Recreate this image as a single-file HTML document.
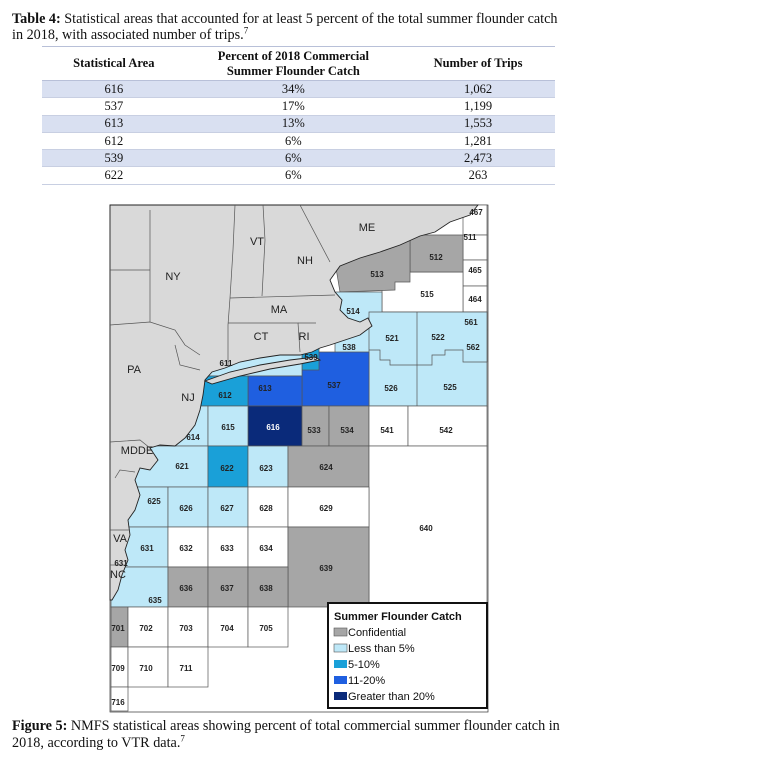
<!DOCTYPE html>
<html><head><style>
body{margin:0;width:777px;height:768px;background:#fff;position:relative;overflow:hidden;font-family:"Liberation Serif",serif;color:#111}
.t{position:absolute;left:12px;font-size:14.2px;line-height:17px;white-space:nowrap}
table{position:absolute;left:42px;top:46px;width:513px;border-collapse:collapse;font-size:12.5px}
td,th{text-align:center;padding:0;height:16.3px;line-height:15px}
th{font-weight:bold;height:33px;border-top:1px solid #b8c0d8;border-bottom:1px solid #b8c0d8}
tr.s td{background:#d9e0f1}
td{border-bottom:1px solid #c8cfe2}
svg{position:absolute;left:0;top:0}
</style></head><body>
<div class="t" style="top:11px;line-height:16px"><b>Table 4:</b> Statistical areas that accounted for at least 5 percent of the total summer flounder catch<br>in 2018, with associated number of trips.<sup style="font-size:9px;line-height:0">7</sup></div>
<table>
<tr><th style="width:28%">Statistical Area</th><th style="width:42%">Percent of 2018 Commercial<br>Summer Flounder Catch</th><th>Number of Trips</th></tr>
<tr class="s"><td>616</td><td>34%</td><td>1,062</td></tr>
<tr><td>537</td><td>17%</td><td>1,199</td></tr>
<tr class="s"><td>613</td><td>13%</td><td>1,553</td></tr>
<tr><td>612</td><td>6%</td><td>1,281</td></tr>
<tr class="s"><td>539</td><td>6%</td><td>2,473</td></tr>
<tr><td>622</td><td>6%</td><td>263</td></tr>
</table>
<svg width="777" height="768" viewBox="0 0 777 768">
<g stroke="#555" stroke-width="0.7">
<rect x="110" y="205" width="378" height="507" fill="#fff" stroke="#333"/>
<rect x="463" y="205" width="24" height="30" fill="#fff"/>
<rect x="463" y="235" width="24" height="25" fill="#fff"/>
<rect x="463" y="260" width="24" height="26" fill="#fff"/>
<rect x="463" y="286" width="24" height="26" fill="#fff"/>
<rect x="463" y="312" width="24" height="18" fill="#a6a6a6"/>
<rect x="463" y="330" width="24" height="32" fill="#bee8f8"/>
<rect x="382" y="272" width="81" height="40" fill="#fff"/>
<polygon points="410,235 463,235 463,272 410,272" fill="#a6a6a6"/>
<polygon points="335,262 360,250 410,240 410,282 395,282 395,290 340,292" fill="#a6a6a6"/>
<rect x="335" y="292" width="47" height="70" fill="#bee8f8"/>
<polygon points="369,312 487,312 487,406 369,406" fill="#bee8f8"/>
<polyline points="417,312 417,406" fill="none"/>
<polyline points="369,350 380,350 380,360 390,360 390,365 417,365 432,365 432,355 445,355 445,350 463,350 463,362 487,362" fill="none"/>
<polygon points="302,352 369,352 369,406 302,406" fill="#1f5fe0"/>
<rect x="302" y="345" width="17" height="25" fill="#1aa0d8"/>
<rect x="200" y="352" width="102" height="24" fill="#bee8f8"/>
<rect x="248" y="376" width="54" height="30" fill="#1f5fe0"/>
<rect x="200" y="376" width="48" height="30" fill="#1aa0d8"/>
<rect x="248" y="406" width="54" height="40" fill="#0a2a7a"/>
<rect x="302" y="406" width="27" height="40" fill="#a6a6a6"/>
<rect x="329" y="406" width="40" height="40" fill="#a6a6a6"/>
<rect x="369" y="406" width="39" height="40" fill="#fff"/>
<rect x="408" y="406" width="79" height="40" fill="#fff"/>
<rect x="150" y="406" width="58" height="40" fill="#bee8f8"/>
<rect x="208" y="406" width="40" height="40" fill="#bee8f8"/>
<rect x="130" y="446" width="78" height="41" fill="#bee8f8"/>
<rect x="208" y="446" width="40" height="41" fill="#1aa0d8"/>
<rect x="248" y="446" width="40" height="41" fill="#bee8f8"/>
<rect x="288" y="446" width="81" height="41" fill="#a6a6a6"/>
<rect x="369" y="446" width="118" height="161" fill="#fff"/>
<rect x="111" y="487" width="57" height="40" fill="#bee8f8"/>
<rect x="168" y="487" width="40" height="40" fill="#bee8f8"/>
<rect x="208" y="487" width="40" height="40" fill="#bee8f8"/>
<rect x="248" y="487" width="40" height="40" fill="#fff"/>
<rect x="288" y="487" width="81" height="40" fill="#fff"/>
<rect x="111" y="527" width="57" height="40" fill="#bee8f8"/>
<rect x="168" y="527" width="40" height="40" fill="#fff"/>
<rect x="208" y="527" width="40" height="40" fill="#fff"/>
<rect x="248" y="527" width="40" height="40" fill="#fff"/>
<rect x="288" y="527" width="81" height="80" fill="#a6a6a6"/>
<rect x="111" y="567" width="57" height="40" fill="#bee8f8"/>
<rect x="168" y="567" width="40" height="40" fill="#a6a6a6"/>
<rect x="208" y="567" width="40" height="40" fill="#a6a6a6"/>
<rect x="248" y="567" width="40" height="40" fill="#a6a6a6"/>
<rect x="111" y="607" width="17" height="40" fill="#a6a6a6"/>
<rect x="128" y="607" width="40" height="40" fill="#fff"/>
<rect x="168" y="607" width="40" height="40" fill="#fff"/>
<rect x="208" y="607" width="40" height="40" fill="#fff"/>
<rect x="248" y="607" width="40" height="40" fill="#fff"/>
<rect x="111" y="647" width="17" height="40" fill="#fff"/>
<rect x="128" y="647" width="40" height="40" fill="#fff"/>
<rect x="168" y="647" width="40" height="40" fill="#fff"/>
<rect x="111" y="687" width="17" height="24" fill="#fff"/>
<polygon fill="#d9d9d9" stroke="#222" stroke-width="0.9" points="110,205 478,205 470,215 450,222 435,232 420,236 400,245 380,252 360,258 340,266 330,280 335,292 342,300 340,310 348,318 360,322 368,318 372,326 360,335 345,340 330,345 320,348 312,352 300,355 280,355 260,358 240,362 225,368 212,372 205,380 203,395 200,410 195,425 185,438 175,446 160,445 150,448 158,460 150,470 140,468 135,480 140,495 135,510 128,520 130,535 125,550 128,560 122,575 118,590 112,600 110,600"/>
<polygon fill="#d9d9d9" stroke="#222" stroke-width="0.9" points="205,381 230,372 260,365 290,360 315,357 320,360 300,364 270,369 240,376 212,384"/>
</g>
<g fill="none" stroke="#555" stroke-width="0.7">
<polyline points="110,325 150,322 175,330 185,345 200,355"/>
<polyline points="150,322 150,210"/>
<polyline points="110,270 150,270"/>
<polyline points="235,205 233,250 230,298 228,325 228,365"/>
<polyline points="263,205 265,240 262,296"/>
<polyline points="300,205 330,262"/>
<polyline points="230,298 335,295"/>
<polyline points="228,323 298,323 300,352"/>
<polyline points="298,323 316,323"/>
<polyline points="175,345 180,365 200,370"/>
<polyline points="110,442 140,440 150,448"/>
<polyline points="135,472 120,470 115,478"/>
<polyline points="110,530 130,530"/>
<polyline points="110,565 125,565"/>
</g>
<g font-family="Liberation Sans,sans-serif" font-size="11" fill="#222" text-anchor="middle">
<text x="367" y="231">ME</text><text x="257" y="245">VT</text><text x="305" y="264">NH</text>
<text x="173" y="280">NY</text><text x="279" y="313">MA</text><text x="261" y="340">CT</text>
<text x="304" y="340">RI</text><text x="134" y="373">PA</text><text x="188" y="401">NJ</text>
<text x="137" y="454">MDDE</text><text x="120" y="542">VA</text><text x="118" y="578">NC</text>
</g>
<g font-family="Liberation Sans,sans-serif" font-size="8" font-weight="bold" fill="#222" text-anchor="middle">
<text x="476" y="215">467</text><text x="470" y="240">511</text><text x="475" y="273">465</text><text x="475" y="302">464</text>
<text x="471" y="325">561</text><text x="473" y="350">562</text><text x="436" y="260">512</text><text x="377" y="277">513</text>
<text x="427" y="297">515</text><text x="353" y="314">514</text><text x="392" y="341">521</text><text x="438" y="340">522</text>
<text x="349" y="350">538</text><text x="311" y="360">539</text><text x="226" y="366">611</text>
<text x="225" y="398">612</text><text x="265" y="391">613</text><text x="334" y="388">537</text>
<text x="391" y="391">526</text><text x="450" y="390">525</text>
<text x="228" y="430">615</text><text x="273" y="430" fill="#fff">616</text><text x="314" y="433">533</text><text x="347" y="433">534</text>
<text x="387" y="433">541</text><text x="446" y="433">542</text><text x="193" y="440">614</text>
<text x="182" y="469">621</text><text x="227" y="471">622</text><text x="266" y="471">623</text><text x="326" y="470">624</text>
<text x="154" y="504">625</text><text x="186" y="511">626</text><text x="227" y="511">627</text><text x="266" y="511">628</text><text x="326" y="511">629</text>
<text x="426" y="531">640</text><text x="147" y="551">631</text><text x="186" y="551">632</text><text x="227" y="551">633</text><text x="266" y="551">634</text>
<text x="326" y="571">639</text><text x="121" y="566">631</text>
<text x="155" y="603">635</text><text x="186" y="591">636</text><text x="227" y="591">637</text><text x="266" y="591">638</text>
<text x="118" y="631">701</text><text x="146" y="631">702</text><text x="186" y="631">703</text><text x="227" y="631">704</text><text x="266" y="631">705</text>
<text x="118" y="671">709</text><text x="146" y="671">710</text><text x="186" y="671">711</text><text x="118" y="705">716</text>
</g>
<rect x="328" y="603" width="159" height="105" fill="#fff" stroke="#111" stroke-width="2"/>
<g font-family="Liberation Sans,sans-serif" font-size="11" fill="#111">
<text x="334" y="620" font-weight="bold">Summer Flounder Catch</text>
<rect x="334" y="628" width="13" height="8" fill="#a6a6a6" stroke="#555" stroke-width="0.6"/><text x="348" y="636">Confidential</text>
<rect x="334" y="644" width="13" height="8" fill="#bee8f8" stroke="#555" stroke-width="0.6"/><text x="348" y="652">Less than 5%</text>
<rect x="334" y="660" width="13" height="8" fill="#1aa0d8"/><text x="348" y="668">5-10%</text>
<rect x="334" y="676" width="13" height="8" fill="#1f5fe0"/><text x="348" y="684">11-20%</text>
<rect x="334" y="692" width="13" height="8" fill="#0a2a7a"/><text x="348" y="700">Greater than 20%</text>
</g>
</svg>
<div class="t" style="top:718px"><b>Figure 5:</b> NMFS statistical areas showing percent of total commercial summer flounder catch in<br>2018, according to VTR data.<sup style="font-size:9px;line-height:0">7</sup></div>
</body></html>
